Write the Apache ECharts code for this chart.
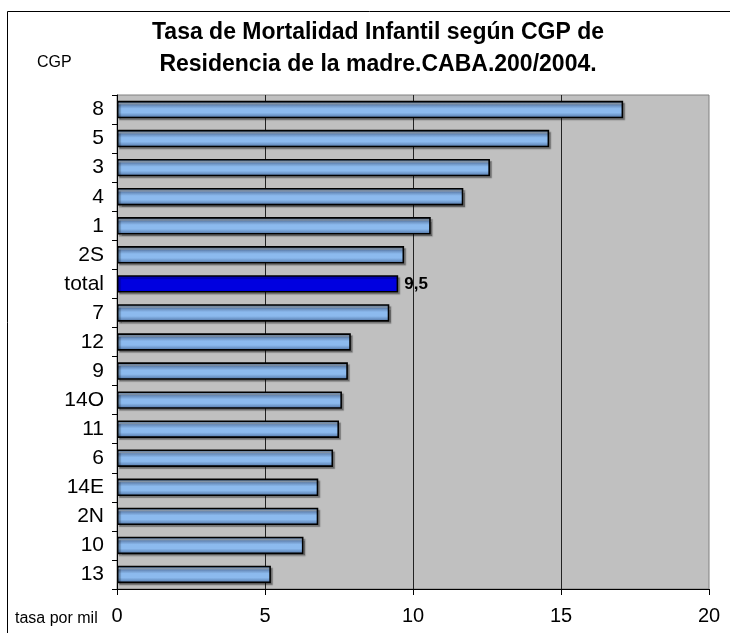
<!DOCTYPE html>
<html>
<head>
<meta charset="utf-8">
<script src="https://cdn.jsdelivr.net/npm/echarts@6/dist/echarts.min.js"></script>
<style>
html,body{margin:0;padding:0;background:#fff;}
#chart{width:730px;height:633px;}
</style>
</head>
<body>
<div id="chart"></div>
<script>
var categories = ['8','5','3','4','1','2S','total','7','12','9','14O','11','6','14E','2N','10','13'];
var values = [17.1,14.6,12.6,11.7,10.6,9.7,9.5,9.2,7.9,7.8,7.6,7.5,7.3,6.8,6.8,6.3,5.2];
var highlightCategory = 'total';
var xTicks = [0,5,10,15,20];
var titleLines = ['Tasa de Mortalidad Infantil según CGP de','Residencia de la madre.CABA.200/2004.'];
var yAxisTitle = 'CGP';
var xAxisTitle = 'tasa por mil';

var FONT = 'Liberation Sans, Arial, sans-serif';
var chart = echarts.init(document.getElementById('chart'), null, {renderer:'canvas'});

var barGradient = new echarts.graphic.LinearGradient(0,0,0,1,[
  {offset:0,color:'#3F5877'},
  {offset:0.1,color:'#6F8FB5'},
  {offset:0.16,color:'#B9CCE2'},
  {offset:0.24,color:'#6589B8'},
  {offset:0.45,color:'#8CBAEE'},
  {offset:0.68,color:'#8CBAEE'},
  {offset:0.86,color:'#6890C2'},
  {offset:1,color:'#44618A'}
]);

var seriesData = values.map(function(v,i){
  if (categories[i] === highlightCategory) {
    return {
      value:v,
      itemStyle:{color:'#0000E0'},
      label:{show:true,position:'right',distance:6,
        formatter:function(p){return String(p.value).replace('.',',');},
        fontFamily:FONT,fontWeight:'bold',fontSize:17,color:'#000'}
    };
  }
  return {value:v};
});

var option = {
  animation:false,
  backgroundColor:'#ffffff',
  grid:{left:117,top:95,width:592,height:494,show:true,backgroundColor:'#C0C0C0',borderColor:'#808080',borderWidth:1,containLabel:false},
  xAxis:{
    type:'value',min:xTicks[0],max:xTicks[xTicks.length-1],interval:5,
    axisLine:{show:true,onZero:false,lineStyle:{color:'#000',width:1}},
    axisTick:{show:true,inside:false,length:6,lineStyle:{color:'#000'}},
    axisLabel:{fontFamily:FONT,fontSize:20,color:'#000',margin:17},
    splitLine:{show:true,showMinLine:false,showMaxLine:false,lineStyle:{color:'#222',width:1}}
  },
  yAxis:{
    type:'category',data:categories,inverse:true,
    axisLine:{show:true,lineStyle:{color:'#000',width:1}},
    axisTick:{show:true,inside:false,length:5,lineStyle:{color:'#000'}},
    axisLabel:{fontFamily:FONT,fontSize:21,color:'#000',margin:13},
    splitLine:{show:false}
  },
  series:[{
    type:'bar',
    data:seriesData,
    barCategoryGap:'40%',
    itemStyle:{color:barGradient,borderColor:'#000',borderWidth:1.6,
      shadowColor:'rgba(0,0,0,0.3)',shadowOffsetX:2,shadowOffsetY:2,shadowBlur:1},
    z:3
  }],
  graphic:[
    {type:'rect',shape:{x:7.5,y:11.5,width:740,height:640},style:{fill:'none',stroke:'#000',lineWidth:1},z:-1,silent:true},
    {type:'text',x:378,y:33,style:{text:titleLines[0],fontFamily:FONT,fontWeight:'bold',fontSize:23,fill:'#000',textAlign:'center',textVerticalAlign:'middle'}},
    {type:'text',x:378,y:65,style:{text:titleLines[1],fontFamily:FONT,fontWeight:'bold',fontSize:23,fill:'#000',textAlign:'center',textVerticalAlign:'middle'}},
    {type:'text',x:37,y:63,style:{text:yAxisTitle,fontFamily:FONT,fontSize:16,fill:'#000',textAlign:'left',textVerticalAlign:'middle'}},
    {type:'text',x:15,y:619,style:{text:xAxisTitle,fontFamily:FONT,fontSize:16,fill:'#000',textAlign:'left',textVerticalAlign:'middle'}}
  ]
};
chart.setOption(option);
</script>
</body>
</html>
